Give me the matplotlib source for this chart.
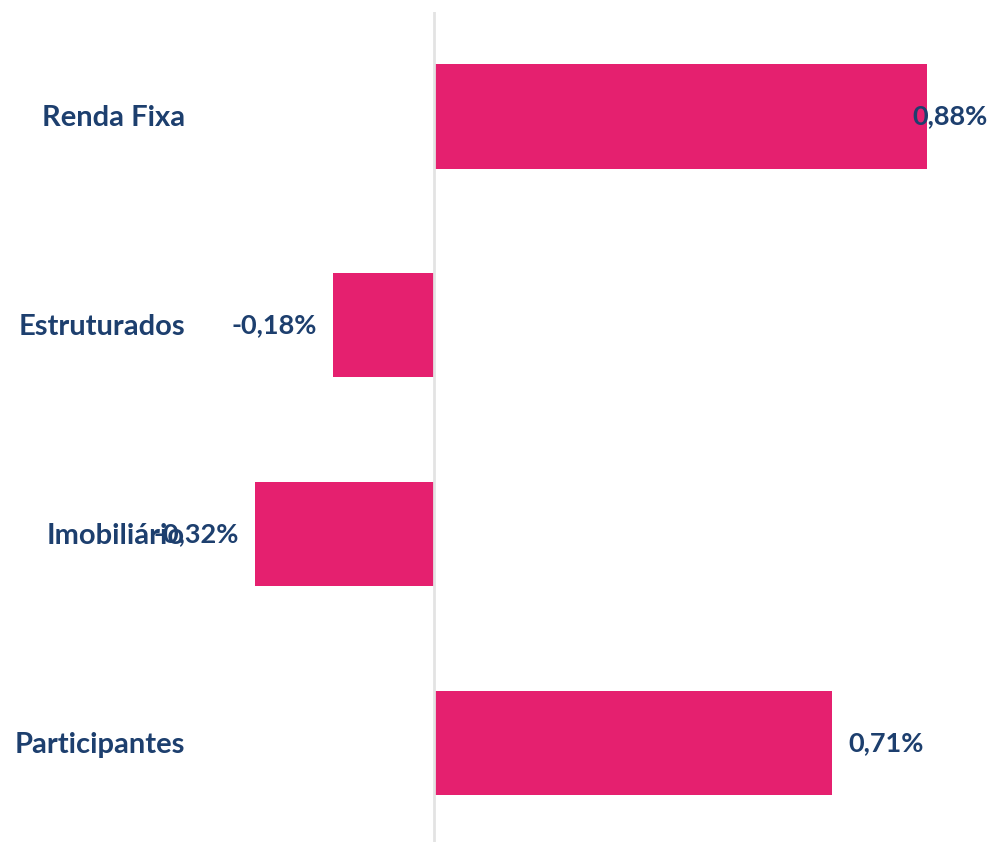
import matplotlib
matplotlib.use('Agg')
import matplotlib.pyplot as plt
import matplotlib.transforms as mtransforms

plt.rcParams['font.family'] = ['Lato', 'DejaVu Sans']

categorias = ['Renda Fixa', 'Estruturados', 'Imobiliário', 'Participantes']
valores = [0.88, -0.18, -0.32, 0.71]
rotulos = ['0,88%', '-0,18%', '-0,32%', '0,71%']

rosa = '#e5206f'
azul = '#1d3f6e'

fig = plt.figure(figsize=(9.94, 8.42), dpi=100)
ax = fig.add_axes([0, -0.0065, 1, 0.9923])

y = list(range(len(categorias)))
ax.barh(y, valores, height=0.5, color=rosa, zorder=2)
ax.axvline(0, color='#e3e3e3', lw=2, zorder=3)

xmin, xmax = -0.775, 1.0
ax.set_xlim(xmin, xmax)
ax.set_ylim(3.5, -0.5)
ax.axis('off')

trans = mtransforms.blended_transform_factory(ax.transAxes, ax.transData)
for i, cat in enumerate(categorias):
    ax.text(0.186, i + 0.01, cat, transform=trans, ha='right', va='center',
            fontsize=21, fontweight='bold', color=azul)

for i, (v, r) in enumerate(zip(valores, rotulos)):
    if v >= 0:
        x = v + 0.03
        ha = 'left'
        if x + 0.14 > xmax:
            x = xmax - 0.012
            ha = 'right'
    else:
        x = v - 0.029
        ha = 'right'
    ax.text(x, i, r, ha=ha, va='center', fontsize=19.5, fontweight='bold',
            color=azul, zorder=4)

fig.savefig('out.png', dpi=100)
